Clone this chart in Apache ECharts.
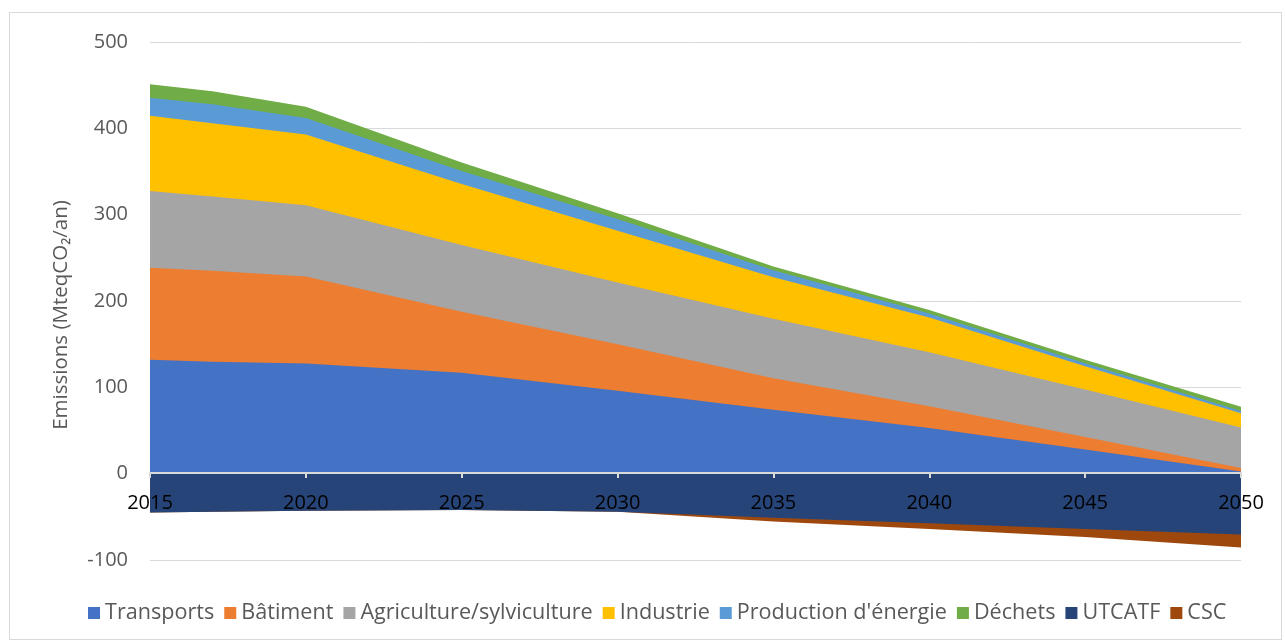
<!DOCTYPE html>
<html>
<head>
<meta charset="utf-8">
<script src="https://cdn.jsdelivr.net/npm/echarts@6/dist/echarts.min.js"></script>
<style>
  html, body { margin: 0; padding: 0; background: #fff; }
  #wrap { position: relative; width: 1285px; height: 642px; }
  #frame { position: absolute; left: 9px; top: 12px; width: 1273px; height: 628px; border: 1px solid #d9d9d9; box-sizing: border-box; }
  #chart { position: absolute; left: 0; top: 0; width: 1285px; height: 642px; }
</style>
</head>
<body>
<div id="wrap"><div id="frame"></div><div id="chart"></div></div>
<script>
const years = [2015, 2017, 2020, 2025, 2030, 2035, 2040, 2045, 2050];
const transports = [132, 129.5, 127.5, 117, 96, 74, 53, 28, 2.5];
const batiment = [106.5, 105.5, 101, 70.5, 54, 36.5, 25, 14.5, 4];
const agriculture = [89, 86, 82.5, 77.5, 71.5, 69, 62.5, 55, 47];
const industrie = [87, 85, 82, 70.5, 60, 48, 40.5, 27, 16.5];
const energie = [21, 22, 19, 15, 13.5, 8, 4.5, 3.5, 2.5];
const dechets = [15.5, 15, 13, 10, 6.5, 4.5, 4, 4, 5];
const utcatf = [-45, -44, -43, -42, -44, -51, -57.5, -64, -70.5];
const csc = [0, 0, 0, 0, 0, -4.5, -6.5, -9.5, -15];

const posDefs = [
  { name: 'Transports', data: transports, color: '#4472C4' },
  { name: 'Bâtiment', data: batiment, color: '#ED7D31' },
  { name: 'Agriculture/sylviculture', data: agriculture, color: '#A5A5A5' },
  { name: 'Industrie', data: industrie, color: '#FFC000' },
  { name: "Production d'énergie", data: energie, color: '#5B9BD5' },
  { name: 'Déchets', data: dechets, color: '#70AD47' }
];
const negDefs = [
  { name: 'UTCATF', data: utcatf, color: '#264478' },
  { name: 'CSC', data: csc, color: '#9E480E' }
];

// cumulative stacking (each layer's area runs from 0 to its running total;
// layers are painted from the outermost inwards so each visible band equals its own value)
function cumulate(defs) {
  const run = years.map(() => 0);
  return defs.map(d => {
    d.data.forEach((v, i) => { run[i] += v; });
    return Object.assign({}, d, { cum: run.slice() });
  });
}
const posCum = cumulate(posDefs).reverse();
const negCum = cumulate(negDefs).reverse();

const font = 'Open Sans';
const makeSeries = s => ({
  name: s.name,
  type: 'line',
  symbol: 'none',
  smooth: false,
  color: s.color,
  lineStyle: { width: 0 },
  areaStyle: { color: s.color, opacity: 1, origin: 0 },
  data: years.map((y, i) => [y, s.cum[i]])
});

const chart = echarts.init(document.getElementById('chart'));
chart.setOption({
  animation: false,
  backgroundColor: 'transparent',
  grid: { left: 150, right: 44, top: 42, bottom: 82 },
  legend: {
    top: 602,
    left: 88,
    icon: 'rect',
    itemWidth: 12,
    itemHeight: 12,
    itemGap: 10,
    padding: 0,
    textStyle: { color: '#595959', fontSize: 21.6, fontFamily: font },
    data: posDefs.concat(negDefs).map(s => s.name)
  },
  xAxis: {
    type: 'value',
    min: 2015,
    max: 2050,
    interval: 5,
    z: 10,
    offset: -87,
    splitLine: { show: false },
    axisLine: { onZero: false, lineStyle: { color: '#d9d9d9', width: 2 } },
    axisTick: { show: true, length: 5, lineStyle: { color: '#d9d9d9', width: 2 } },
    axisLabel: { color: '#000', fontSize: 20, fontFamily: font, margin: 20, formatter: v => String(v) }
  },
  yAxis: {
    type: 'value',
    min: -100,
    max: 500,
    interval: 100,
    name: 'Emissions (MteqCO₂/an)',
    nameLocation: 'middle',
    nameGap: 78,
    nameTextStyle: { color: '#595959', fontSize: 20.5, fontFamily: font, padding: [0, 28, 0, 0] },
    axisLine: { show: false },
    axisTick: { show: false },
    axisLabel: { color: '#595959', fontSize: 20, fontFamily: font, margin: 22 },
    splitLine: { lineStyle: { color: '#d9d9d9', width: 1 } }
  },
  series: posCum.map(makeSeries).concat(negCum.map(makeSeries))
});
</script>
</body>
</html>
